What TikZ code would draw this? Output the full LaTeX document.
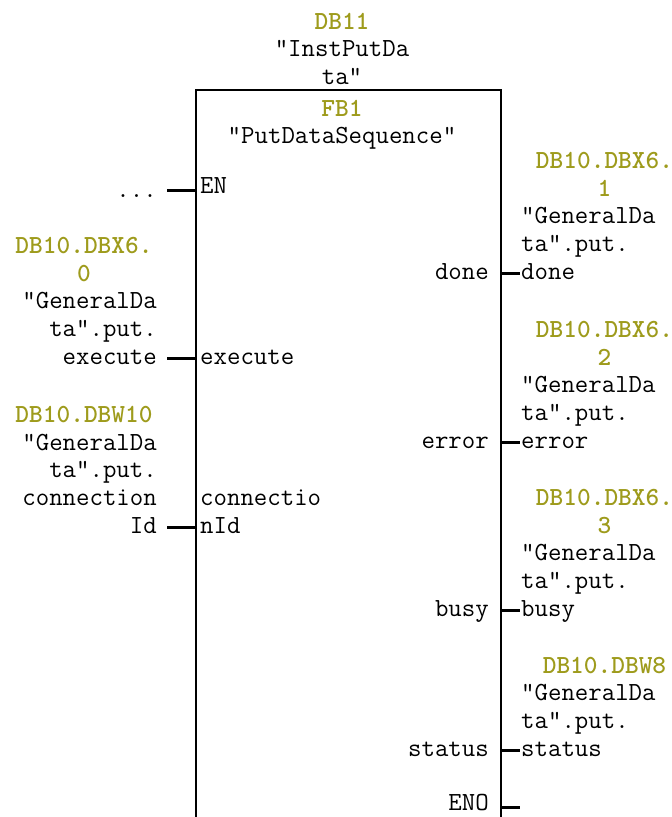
\documentclass[tikz,border=0pt]{standalone}
\usepackage{fontspec}
\definecolor{dbyellow}{RGB}{158,155,28}
\tikzset{
	lbl/.style={font=\ttfamily\fontsize{26.1}{27.6}\selectfont, inner sep=0pt, yshift=-2pt},
	adr/.style={inner sep=0pt, yshift=-2pt, font=\ttfamily\bfseries\fontsize{26.1}{27.6}\selectfont, text=dbyellow, align=center, anchor=base},
	wire/.style={line width=3pt},
	fbframe/.style={line width=1.5pt}
}
\begin{document}
\begin{tikzpicture}[x=1pt,y=-1pt]
	\useasboundingbox (0,0) rectangle (672,817);
	%baustein
	\draw[fbframe] (196,817) -- (196,90) -- (501,90) -- (501,817);
	\node[adr] (instadr) at (342,27) {DB11};
	\node[lbl, align=center, anchor=base] (instname) at (342,82.2) {"InstPutDa\\ta"};
	\node[adr] (fbadr) at (342,114) {FB1};
	\node[lbl, anchor=base] (fbname) at (342,141.6) {"PutDataSequence"};
	%eingaenge
	\node[lbl, anchor=base west] (en) at (200,191) {EN};
	\node[lbl, anchor=base west] (execute) at (200,362) {execute};
	\node[lbl, align=left, anchor=base west] (connid) at (200,531) {connectio\\nId};
	\coordinate (enpin) at (196,190);
	\coordinate (enend) at (167,190);
	\coordinate (execpin) at (196,358);
	\coordinate (execend) at (167,358);
	\coordinate (connpin) at (196,527);
	\coordinate (connend) at (167,527);
	\draw[wire] (enend) -- (enpin);
	\draw[wire] (execend) -- (execpin);
	\draw[wire] (connend) -- (connpin);
	\node[lbl, anchor=base east] (enval) at (157,195) {...};
	\node[adr] (execadr) at (84,279.2) {DB10.DBX6.\\0};
	\node[lbl, align=right, anchor=base east] (execval) at (157,362) {"GeneralDa\\ta".put.\\execute};
	\node[adr] (connadr) at (84,420.6) {DB10.DBW10};
	\node[lbl, align=right, anchor=base east] (connval) at (157,531) {"GeneralDa\\ta".put.\\connection\\Id};
	%ausgaenge
	\node[lbl, anchor=base east] (done) at (489,277) {done};
	\node[lbl, anchor=base east] (error) at (489,446) {error};
	\node[lbl, anchor=base east] (busy) at (489,614) {busy};
	\node[lbl, anchor=base east] (status) at (489,754) {status};
	\node[lbl, anchor=base east] (eno) at (489,808) {ENO};
	\coordinate (donepin) at (501,273);
	\coordinate (doneend) at (520,273);
	\coordinate (errorpin) at (501,442);
	\coordinate (errorend) at (520,442);
	\coordinate (busypin) at (501,610);
	\coordinate (busyend) at (520,610);
	\coordinate (statuspin) at (501,750);
	\coordinate (statusend) at (520,750);
	\coordinate (enopin) at (501,807);
	\coordinate (enoend) at (520,807);
	\draw[wire] (donepin) -- (doneend);
	\draw[wire] (errorpin) -- (errorend);
	\draw[wire] (busypin) -- (busyend);
	\draw[wire] (statuspin) -- (statusend);
	\draw[wire] (enopin) -- (enoend);
	\node[adr] (doneadr) at (604.5,194.2) {DB10.DBX6.\\1};
	\node[lbl, align=left, anchor=base west] (doneval) at (521,277) {"GeneralDa\\ta".put.\\done};
	\node[adr] (erroradr) at (604.5,363.2) {DB10.DBX6.\\2};
	\node[lbl, align=left, anchor=base west] (errorval) at (521,446) {"GeneralDa\\ta".put.\\error};
	\node[adr] (busyadr) at (604.5,531.2) {DB10.DBX6.\\3};
	\node[lbl, align=left, anchor=base west] (busyval) at (521,614) {"GeneralDa\\ta".put.\\busy};
	\node[adr] (statusadr) at (604.5,671.2) {DB10.DBW8};
	\node[lbl, align=left, anchor=base west] (statusval) at (521,754) {"GeneralDa\\ta".put.\\status};
\end{tikzpicture}
\end{document}
